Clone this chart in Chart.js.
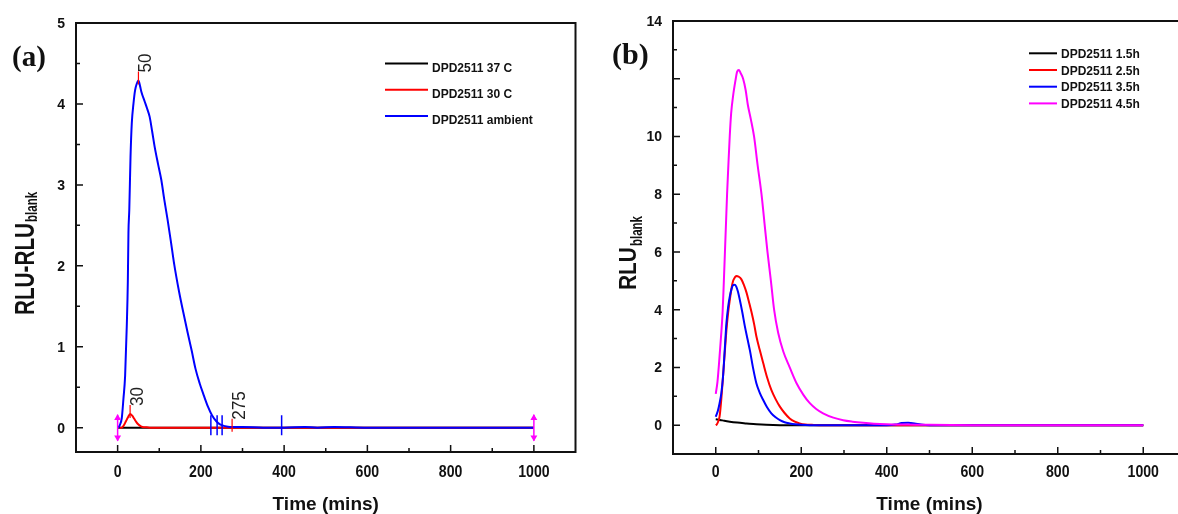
<!DOCTYPE html>
<html>
<head>
<meta charset="utf-8">
<title>DPD2511 luminescence time course</title>
<script src="https://cdn.jsdelivr.net/npm/chart.js@4.4.1/dist/chart.umd.min.js"></script>
<style>
  html, body { margin: 0; padding: 0; background: #fff; }
  #wrap { position: relative; width: 1178px; height: 514px; overflow: hidden; }
  #chartA { position: absolute; left: 0; top: 0; }
  #chartB { position: absolute; left: 590px; top: 0; }
</style>
</head>
<body>
<div id="wrap">
  <canvas id="chartA" width="590" height="514"></canvas>
  <canvas id="chartB" width="600" height="514"></canvas>
</div>
<script>
// PANEL (a) DATA - RLU-RLU(blank) vs time (mins)
const time37 = [0, 10, 60, 100, 200, 300, 400, 500, 600, 700, 800, 900, 1000];
const rlu37 = [0, 0, 0, 0, 0, 0, 0, 0, 0, 0, 0, 0, 0];

const time30 = [5, 10, 15, 20, 25, 30, 35, 40, 45, 50, 55, 60, 70, 80, 100, 150, 200, 250, 300, 350, 400, 500, 600, 700, 800, 900, 1000];
const rlu30 = [0, 0, 0.03, 0.08, 0.13, 0.17, 0.15, 0.11, 0.07, 0.04, 0.02, 0.01, 0.005, 0, 0, 0, 0, 0, 0, 0, 0, 0, 0, 0, 0, 0, 0];

const timeAmb = [0, 5, 10, 14, 18, 22, 24.5, 26, 28, 31, 34, 38, 42, 46, 50, 54, 57, 65, 71, 77, 83, 89, 97, 105, 112, 120, 128, 135, 148, 158, 168, 178, 187, 197, 207, 217, 227, 237, 246, 258, 270, 300, 350, 400, 450, 480, 520, 600, 700, 800, 900, 1000];
const rluAmb = [0, 0.03, 0.12, 0.36, 0.64, 1.26, 1.8, 2.41, 2.69, 3.35, 3.76, 4.0, 4.17, 4.25, 4.29, 4.22, 4.15, 4.03, 3.94, 3.84, 3.66, 3.47, 3.26, 3.06, 2.82, 2.57, 2.3, 2.05, 1.67, 1.42, 1.18, 0.95, 0.73, 0.55, 0.40, 0.26, 0.15, 0.08, 0.04, 0.02, 0.01, 0.01, 0, 0, 0.01, 0, 0.01, 0, 0, 0, 0, 0];

const labelsA = ['DPD2511 37 C', 'DPD2511 30 C', 'DPD2511 ambient'];

// data reader marks left on panel (a)
const cursorTimes = [0, 1000];
const cursorRlu = [0, 0];
const arrowUpRlu = [0.12, 0.12];
const arrowDownRlu = [-0.12, -0.12];
const readerTimes = [224, 239, 251, 394];
const readerRlu = [0.03, 0.03, 0.03, 0.03];
const peakTimes = [50, 30, 275];
const peakRlu = [4.29, 0.17, 0];
const peakLabels = ['50', '30', '275'];

// PANEL (b) DATA - RLU(blank) vs time (mins)
const time15 = [0, 10, 20, 33, 50, 72, 95, 118, 150, 200, 300, 400, 500, 600, 700, 800, 900, 1000];
const rlu15 = [0.2, 0.18, 0.15, 0.12, 0.09, 0.06, 0.03, 0.01, 0, 0, 0, 0, 0, 0, 0, 0, 0, 0];

const time25 = [0, 2, 5, 9, 13, 17, 21, 25, 29, 33, 37, 40.5, 44, 48, 54, 60, 66, 72, 78, 84, 90, 95, 103, 111, 120, 130, 140, 150, 161, 173, 185, 196, 210, 225, 250, 300, 400, 500, 600, 700, 800, 900, 1000];
const rlu25 = [0, 0.02, 0.1, 0.3, 0.9, 1.68, 2.5, 3.3, 3.9, 4.35, 4.75, 4.99, 5.1, 5.17, 5.14, 5.05, 4.85, 4.59, 4.25, 3.89, 3.48, 3.08, 2.6, 2.15, 1.66, 1.22, 0.9, 0.64, 0.42, 0.23, 0.12, 0.06, 0.02, 0.01, 0, 0, 0, 0, 0, 0, 0, 0, 0];

const time35 = [0, 5, 9, 13, 17, 21, 25, 29, 33, 37, 40.5, 44, 48, 52, 56, 62, 68, 74, 80, 87, 95, 103, 111, 120, 130, 140, 150, 161, 173, 186, 200, 220, 300, 400, 420, 435, 450, 465, 480, 500, 600, 700, 800, 900, 1000];
const rlu35 = [0.29, 0.5, 0.76, 1.1, 1.68, 2.6, 3.54, 4.1, 4.47, 4.72, 4.85, 4.86, 4.8, 4.62, 4.36, 3.92, 3.43, 3.0, 2.58, 2.0, 1.45, 1.12, 0.87, 0.62, 0.41, 0.27, 0.17, 0.1, 0.06, 0.03, 0.01, 0, 0, 0, 0.02, 0.07, 0.08, 0.06, 0.02, 0, 0, 0, 0, 0, 0];

const time45 = [0, 4, 8, 12, 16, 19, 21.5, 24, 26.5, 29.5, 32.7, 36, 40.5, 46.8, 50, 54, 58, 64, 70, 75, 82, 89.6, 98, 107, 114, 121, 129, 136.5, 146, 158, 173, 189, 205, 220, 235, 251, 275, 298, 320, 345, 370, 400, 450, 500, 600, 700, 800, 900, 1000];
const rlu45 = [1.08, 1.5, 2.2, 3.0, 3.9, 5.0, 6.0, 7.0, 8.0, 9.0, 10.0, 10.8, 11.4, 12.0, 12.25, 12.3, 12.2, 12.0, 11.6, 11.1, 10.6, 10.0, 9.0, 8.0, 7.0, 6.0, 5.0, 4.0, 3.2, 2.55, 2.0, 1.45, 1.05, 0.76, 0.56, 0.41, 0.26, 0.17, 0.12, 0.08, 0.05, 0.03, 0.02, 0.01, 0, 0, 0, 0, 0];

const labelsB = ['DPD2511 1.5h', 'DPD2511 2.5h', 'DPD2511 3.5h', 'DPD2511 4.5h'];

// AXIS TICKS
const xTicks = [0, 200, 400, 600, 800, 1000];
const xMinorTicks = [100, 300, 500, 700, 900];
const yTicksA = [0, 1, 2, 3, 4, 5];
const yTickLabelsA = ['0', '1', '2', '3', '4', '5'];
const yMinorA = [0.5, 1.5, 2.5, 3.5, 4.5];
const yTicksB = [0, 2, 4, 6, 8, 10, 12, 14];
const yTickLabelsB = ['0', '2', '4', '6', '8', '10', '', '14'];
const yMinorB = [1, 3, 5, 7, 9, 11, 13];

const SANS = '"Liberation Sans", Arial, sans-serif';
const SERIF = '"Liberation Serif", "Times New Roman", serif';
const BLACK = '#000000', RED = '#ff0000', BLUE = '#0000ff', MAGENTA = '#ff00ff';

//HELPERS
const toPoints = (xs, ys) => xs.map((x, i) => ({ x: x, y: ys[i] }));

function series(label, xs, ys, color, order) {
  return {
    label: label,
    data: toPoints(xs, ys),
    borderColor: color,
    backgroundColor: color,
    borderWidth: 2,
    pointRadius: 0,
    cubicInterpolationMode: 'monotone',
    fill: false,
    order: order
  };
}

function marks(xs, ys, color, style, radius, rotation) {
  return {
    data: toPoints(xs, ys),
    showLine: false,
    pointStyle: style,
    pointRadius: radius,
    rotation: rotation,
    pointBorderColor: color,
    pointBackgroundColor: color,
    pointBorderWidth: 1.5,
    order: -1
  };
}

function drawText(ctx, text, x, y, font, opts) {
  ctx.save();
  ctx.translate(x, y);
  if (opts.rotate) ctx.rotate(-Math.PI / 2);
  ctx.scale(opts.scaleX || 1, 1);
  ctx.font = font;
  ctx.textAlign = opts.align || 'left';
  ctx.textBaseline = 'alphabetic';
  ctx.fillStyle = opts.color || '#111';
  ctx.fillText(text, 0, 0);
  const w = ctx.measureText(text).width * (opts.scaleX || 1);
  ctx.restore();
  return w;
}

// ORIGIN STYLE FRAME, TICKS, TITLES AND LEGEND
function originPlugin(panel) {
  return {
    id: 'origin' + panel.letter,
    afterDatasetsDraw(chart) {
      const { ctx, chartArea: area } = chart;
      const xs = chart.scales.x;
      const ys = chart.scales.y;
      ctx.save();

      // frame
      ctx.strokeStyle = '#111';
      ctx.lineWidth = 2;
      ctx.strokeRect(area.left, area.top, area.right - area.left, area.bottom - area.top);

      // inward ticks
      ctx.lineWidth = 1.5;
      ctx.beginPath();
      xTicks.forEach(v => { const p = xs.getPixelForValue(v); ctx.moveTo(p, area.bottom); ctx.lineTo(p, area.bottom - 7); });
      xMinorTicks.forEach(v => { const p = xs.getPixelForValue(v); ctx.moveTo(p, area.bottom); ctx.lineTo(p, area.bottom - 4); });
      panel.yTicks.forEach(v => { const p = ys.getPixelForValue(v); ctx.moveTo(area.left, p); ctx.lineTo(area.left + 7, p); });
      panel.yMinor.forEach(v => { const p = ys.getPixelForValue(v); ctx.moveTo(area.left, p); ctx.lineTo(area.left + 4, p); });
      ctx.stroke();

      // tick labels
      xTicks.forEach(v => drawText(ctx, String(v), xs.getPixelForValue(v), 477, 'bold 17px ' + SANS, { align: 'center', scaleX: 0.83 }));
      panel.yTicks.forEach((v, i) => drawText(ctx, panel.yLabels[i], area.left - 11, ys.getPixelForValue(v) + 5, 'bold 14px ' + SANS, { align: 'right' }));

      // axis titles
      drawText(ctx, 'Time (mins)', (area.left + area.right) / 2, 510, 'bold 19px ' + SANS, { align: 'center' });
      const t = panel.yTitle;
      const mainW = drawText(ctx, t.main, t.x, t.y, 'bold ' + t.size + 'px ' + SANS, { rotate: true, scaleX: t.scaleX });
      drawText(ctx, 'blank', t.x + t.subShift, t.y - mainW - 1, 'bold 16px ' + SANS, { rotate: true, scaleX: 0.72 });

      // panel letter
      drawText(ctx, panel.letterText, panel.letterX, panel.letterY, 'bold ' + panel.letterSize + 'px ' + SERIF, {});

      // legend
      const lg = panel.legend;
      let row = 0;
      chart.data.datasets.forEach(ds => {
        if (!ds.label) return;
        const ly = lg.y + row * lg.step;
        ctx.strokeStyle = ds.borderColor;
        ctx.lineWidth = 2;
        ctx.beginPath();
        ctx.moveTo(lg.x1, ly);
        ctx.lineTo(lg.x2, ly);
        ctx.stroke();
        drawText(ctx, ds.label, lg.textX, ly + lg.textDy, 'bold 12px ' + SANS, {});
        row++;
      });

      // peak annotations
      if (panel.peaks) {
        ctx.strokeStyle = RED;
        ctx.lineWidth = 1.2;
        panel.peaks.times.forEach((v, i) => {
          const px = xs.getPixelForValue(v);
          const py = ys.getPixelForValue(panel.peaks.values[i]);
          ctx.beginPath();
          ctx.moveTo(px, py + 4);
          ctx.lineTo(px, py - 9);
          ctx.stroke();
          drawText(ctx, panel.peaks.labels[i], px + 13, py - 8, '18px ' + SANS, { rotate: true, scaleX: 0.95, color: '#222' });
        });
      }
      ctx.restore();
    }
  };
}

function buildChart(canvasId, datasets, panel) {
  return new Chart(document.getElementById(canvasId), {
    type: 'line',
    data: { datasets: datasets },
    options: {
      responsive: false,
      animation: false,
      devicePixelRatio: 1,
      layout: { padding: { top: panel.top, right: panel.right, left: 0, bottom: 0 } },
      plugins: { legend: { display: false }, tooltip: { enabled: false } },
      scales: {
        x: {
          type: 'linear', min: -100, max: 1100,
          grid: { display: false, drawTicks: false },
          border: { display: false },
          ticks: { display: false },
          afterFit: s => { s.height = panel.xAxisHeight; }
        },
        y: {
          type: 'linear', min: panel.yMin, max: panel.yMax,
          grid: { display: false, drawTicks: false },
          border: { display: false },
          ticks: { display: false },
          afterFit: s => { s.width = panel.yAxisWidth; }
        }
      }
    },
    plugins: [originPlugin(panel)]
  });
}

// PANEL (a)
buildChart('chartA', [
  series(labelsA[0], time37, rlu37, BLACK, 3),
  series(labelsA[1], time30, rlu30, RED, 2),
  series(labelsA[2], timeAmb, rluAmb, BLUE, 1),
  marks(readerTimes, readerRlu, BLUE, 'line', 10, 90),
  marks(cursorTimes, cursorRlu, MAGENTA, 'line', 13, 90),
  marks(cursorTimes, arrowUpRlu, MAGENTA, 'triangle', 2.5, 0),
  marks(cursorTimes, arrowDownRlu, MAGENTA, 'triangle', 2.5, 180)
], {
  letter: 'A', letterText: '(a)', letterX: 12, letterY: 66, letterSize: 29,
  top: 23, right: 5, xAxisHeight: 62, yAxisWidth: 76,
  yMin: -0.3, yMax: 5,
  yTicks: yTicksA, yLabels: yTickLabelsA, yMinor: yMinorA,
  yTitle: { main: 'RLU-RLU', x: 34, y: 315, size: 28, scaleX: 0.74, subShift: 3 },
  legend: { x1: 385, x2: 428, textX: 432, y: 63.5, step: 26.2, textDy: 8 },
  peaks: { times: peakTimes, values: peakRlu, labels: peakLabels }
});

// PANEL (b)
buildChart('chartB', [
  series(labelsB[0], time15, rlu15, BLACK, 3),
  series(labelsB[1], time25, rlu25, RED, 2),
  series(labelsB[2], time35, rlu35, BLUE, 1),
  series(labelsB[3], time45, rlu45, MAGENTA, 0)
], {
  letter: 'B', letterText: '(b)', letterX: 22, letterY: 64, letterSize: 30,
  top: 21, right: 4, xAxisHeight: 60, yAxisWidth: 83,
  yMin: -1, yMax: 14,
  yTicks: yTicksB, yLabels: yTickLabelsB, yMinor: yMinorB,
  yTitle: { main: 'RLU', x: 46, y: 290, size: 24, scaleX: 0.87, subShift: 6 },
  legend: { x1: 439, x2: 467, textX: 471, y: 53.3, step: 16.7, textDy: 4.5 }
});
</script>
</body>
</html>
